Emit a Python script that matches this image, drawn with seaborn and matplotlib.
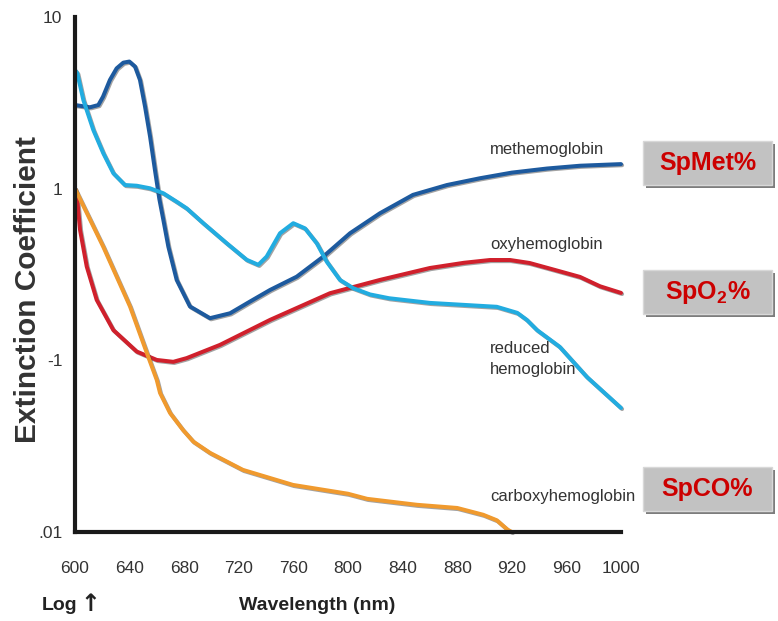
import pandas as pd
import numpy as np
import seaborn as sns
import matplotlib
matplotlib.use('Agg')
import matplotlib.pyplot as plt
import matplotlib.patheffects as pe
from matplotlib.patches import Rectangle

# readings (wavelength nm, extinction coefficient)
met_nm = [600, 611, 617.1, 620.5, 625.6, 630.5, 635.4, 639.8, 644, 647.6, 651.3, 655, 658.6,
          661.8, 664.7, 668.4, 674.5, 684.2, 698.9, 713.6, 728.2, 742.9, 762.4, 781.9, 801.5,
          823.4, 847.6, 872.5, 896.7, 920, 945.8, 970, 1000]
met_val = [3.07, 2.98, 3.07, 3.43, 4.30, 5.02, 5.42, 5.50, 5.14, 4.30, 3.01, 2.01, 1.28,
           0.87, 0.66, 0.459, 0.294, 0.206, 0.176, 0.188, 0.220, 0.257, 0.307, 0.402, 0.550,
           0.719, 0.920, 1.05, 1.15, 1.24, 1.31, 1.36, 1.39]

oxy_nm = [600, 601.2, 603.7, 608.6, 615.9, 628.1, 645.2, 659.9, 672, 681.8, 706.2, 742.9,
          786.8, 823.4, 860, 885, 904, 918.7, 933, 951.6, 970, 984.6, 1000]
oxy_val = [1.0, 0.94, 0.575, 0.352, 0.225, 0.150, 0.1125, 0.1005, 0.098, 0.103, 0.123, 0.172,
           0.246, 0.294, 0.345, 0.370, 0.384, 0.384, 0.369, 0.336, 0.306, 0.270, 0.247]

red_nm = [600, 601.7, 606.1, 613.4, 620.7, 628.1, 636.6, 645.2, 654.9, 664.7, 674.5, 681.8,
          694, 711.1, 725.8, 734.3, 740.4, 750.2, 759.9, 768.5, 777.1, 784.4, 794.1, 803.9,
          816.1, 830, 860, 909, 924, 931, 938.5, 955, 975, 1000]
red_val = [4.9, 4.70, 3.29, 2.20, 1.61, 1.23, 1.05, 1.04, 1.005, 0.94, 0.839, 0.768,
           0.629, 0.481, 0.385, 0.360, 0.402, 0.550, 0.629, 0.587, 0.481, 0.376, 0.294, 0.263,
           0.242, 0.230, 0.216, 0.205, 0.189, 0.172, 0.150, 0.120, 0.080, 0.0528]

co_nm = [600, 620.7, 640.3, 652.7, 659.9, 662.3, 669.6, 679.1, 686.7, 698.9, 723, 759.7, 800,
         814, 850.5, 880, 899, 909, 917, 920]
co_val = [1.0, 0.459, 0.206, 0.110, 0.0769, 0.0646, 0.0494, 0.0393, 0.0336, 0.0289, 0.023,
          0.0188, 0.0167, 0.0156, 0.0144, 0.0138, 0.0126, 0.0117, 0.0103, 0.01]

x_ticks = [600, 640, 680, 720, 760, 800, 840, 880, 920, 960, 1000]
y_ticks = [10, 1, 0.1, 0.01]
y_tick_labels = ['10', '1', '-1', '.01']

species = ['methemoglobin', 'oxyhemoglobin', 'reduced hemoglobin', 'carboxyhemoglobin']
colors = ['#1d5a9e', '#d0202c', '#22ace0', '#f09a2e']

df = pd.concat([
    pd.DataFrame({'nm': met_nm, 'coef': met_val, 'species': species[0]}),
    pd.DataFrame({'nm': oxy_nm, 'coef': oxy_val, 'species': species[1]}),
    pd.DataFrame({'nm': red_nm, 'coef': red_val, 'species': species[2]}),
    pd.DataFrame({'nm': co_nm, 'coef': co_val, 'species': species[3]}),
])

sns.set_style('white')
plt.rcParams['font.family'] = ['Liberation Sans', 'DejaVu Sans']
plt.rcParams['mathtext.fontset'] = 'custom'
plt.rcParams['mathtext.bf'] = 'Liberation Sans:bold'
plt.rcParams['mathtext.rm'] = 'Liberation Sans'

fig = plt.figure(figsize=(7.78, 6.21), dpi=100)
ax = fig.add_axes([75 / 778, 1 - 532 / 621, 546 / 778, 515 / 621])

sns.lineplot(data=df, x='nm', y='coef', hue='species', palette=dict(zip(species, colors)),
             estimator=None, sort=False, linewidth=2.9, legend=False, ax=ax)
for ln in ax.lines:
    ln.set_solid_capstyle('round')
    ln.set_solid_joinstyle('round')
    ln.set_path_effects([pe.SimpleLineShadow(offset=(0.8, -0.8), shadow_color='#333333', alpha=0.45),
                         pe.Normal()])
    ln.set_clip_on(False)

ax.set_yscale('log')
ax.set_xlim(600, 1000)
ax.set_ylim(0.01, 10)
ax.set_xticks(x_ticks)
ax.set_xticklabels([str(t) for t in x_ticks])
ax.set_yticks(y_ticks)
ax.set_yticklabels(y_tick_labels)
ax.minorticks_off()
ax.tick_params(axis='x', direction='inout', length=18, width=2.2, color='#1a1a1a',
               labelsize=12.5, labelcolor='#333333', pad=12)
ax.tick_params(axis='y', direction='inout', length=10, width=2.2, color='#1a1a1a',
               labelsize=12.5, labelcolor='#333333', pad=4)
for s in ['top', 'right']:
    ax.spines[s].set_visible(False)
for s in ['left', 'bottom']:
    ax.spines[s].set_linewidth(3)
    ax.spines[s].set_color('#1a1a1a')
ax.set_xlabel('')
ax.set_ylabel('')

# curve names
lab = dict(fontsize=12, color='#333333')
ax.text(904, 1.68, 'methemoglobin', va='center', **lab)
ax.text(904, 0.47, 'oxyhemoglobin', va='center', **lab)
ax.text(904, 0.102, 'reduced\nhemoglobin', va='center', linespacing=1.45, **lab)
ax.text(904, 0.016, 'carboxyhemoglobin', va='center', **lab)

# boxes on the right
def badge(y0, y1, label):
    x0, x1 = 643, 772
    W, H = 778, 621
    fig.patches.append(Rectangle((x0 / W + 3 / W, 1 - (y1 + 3) / H), (x1 - x0) / W, (y1 - y0) / H,
                                 transform=fig.transFigure, facecolor='#7d7d7d', edgecolor='none'))
    fig.patches.append(Rectangle((x0 / W, 1 - y1 / H), (x1 - x0) / W, (y1 - y0) / H,
                                 transform=fig.transFigure, facecolor='#c2c2c2', edgecolor='#d8d8d8', lw=1))
    fig.text((x0 + x1) / 2 / W, 1 - (y0 + y1) / 2 / H, label, ha='center', va='center',
             fontsize=18, fontweight='bold', color='#cc0000')

badge(141, 185, 'SpMet%')
badge(270, 314, r'SpO$_\mathbf{2}$%')
badge(467, 511, 'SpCO%')

fig.text(28 / 778, 1 - 289 / 621, 'Extinction Coefficient', rotation=90, ha='center', va='center',
         fontsize=21.5, fontweight='bold', color='#333333')
fig.text(317 / 778, 1 - 605 / 621, 'Wavelength (nm)', ha='center', va='center',
         fontsize=14, fontweight='bold', color='#222222')
fig.text(42 / 778, 1 - 606 / 621, 'Log', ha='left', va='center',
         fontsize=14, fontweight='bold', color='#222222')
fig.text(80 / 778, 1 - 604 / 621, '\u2191', ha='left', va='center',
         fontsize=17, fontweight='bold', color='#222222', family=['DejaVu Sans'])

fig.savefig('out.png', dpi=100)
